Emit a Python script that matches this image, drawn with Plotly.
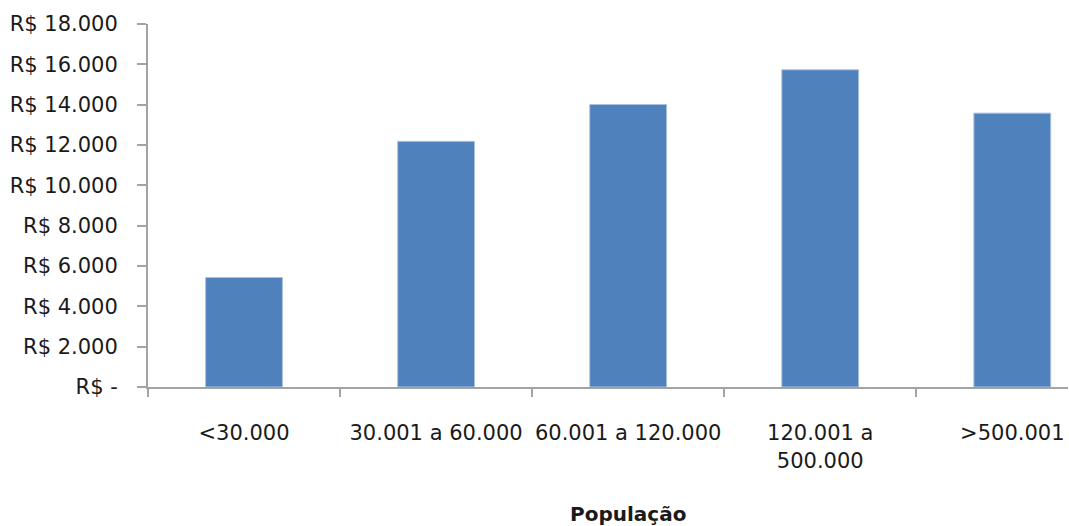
import plotly.graph_objects as go

# Population brackets and average values (R$)
categorias = ["<30.000", "30.001 a 60.000", "60.001 a 120.000", "120.001 a<br>500.000", ">500.001"]
valores = [5430, 12180, 14010, 15730, 13580]

# Y axis ticks
y_ticks = [0, 2000, 4000, 6000, 8000, 10000, 12000, 14000, 16000, 18000]
y_labels = ["R$ -", "R$ 2.000", "R$ 4.000", "R$ 6.000", "R$ 8.000", "R$ 10.000",
            "R$ 12.000", "R$ 14.000", "R$ 16.000", "R$ 18.000"]

x_title = "População"

FONT = "DejaVu Sans"
AXIS_COLOR = "#A3A3A3"

fig = go.Figure()
fig.add_trace(go.Bar(
    x=categorias,
    y=valores,
    width=0.4,
    marker=dict(color="#4F81BD", line=dict(color="#A9C1E0", width=1)),
    hoverinfo="x+y",
))

fig.update_layout(
    width=1069,
    height=526,
    margin=dict(l=148, r=1, t=24, b=139),
    paper_bgcolor="white",
    plot_bgcolor="white",
    showlegend=False,
    font=dict(family=FONT, size=21, color="#1a1a1a"),
    bargap=0.6,
)

fig.update_xaxes(
    type="category",
    range=[-0.5, 4.29],
    showline=True,
    linecolor=AXIS_COLOR,
    linewidth=2,
    ticks="outside",
    tickson="boundaries",
    ticklen=8,
    tickwidth=2,
    tickcolor=AXIS_COLOR,
    ticklabelstandoff=26,
    tickangle=0,
    showgrid=False,
    zeroline=False,
    tickfont=dict(family=FONT, size=21, color="#1a1a1a"),
)

fig.update_yaxes(
    range=[0, 18000],
    tickvals=y_ticks,
    ticktext=y_labels,
    showline=True,
    linecolor=AXIS_COLOR,
    linewidth=2,
    ticks="outside",
    ticklen=9,
    tickwidth=2,
    tickcolor=AXIS_COLOR,
    ticklabelstandoff=15,
    showgrid=False,
    zeroline=False,
    tickfont=dict(family=FONT, size=21, color="#1a1a1a"),
)

# Axis title centred under the middle category
fig.add_annotation(
    x=categorias[2], xref="x",
    y=-0.35, yref="paper",
    text="<b>" + x_title + "</b>",
    showarrow=False,
    yanchor="middle",
    font=dict(family=FONT, size=20, color="#1a1a1a"),
)

fig.write_html("out.html")
